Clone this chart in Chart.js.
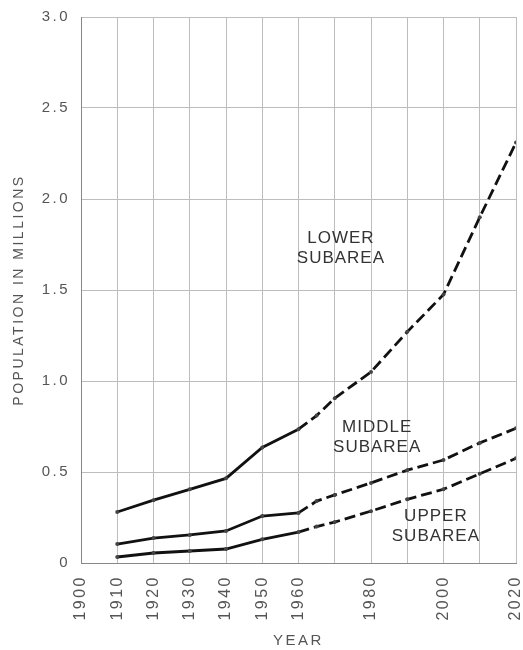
<!DOCTYPE html>
<html>
<head>
<meta charset="utf-8">
<script src="https://cdn.jsdelivr.net/npm/chart.js@4/dist/chart.umd.min.js"></script>
<style>
	html, body { margin: 0; padding: 0; background: #fff; }
	.wrap { width: 523px; height: 650px; position: relative; }
</style>
</head>
<body>
<div class="wrap"><canvas id="chart-pop"></canvas></div>
<script>
const years = [1910, 1920, 1930, 1940, 1950, 1960, 1965, 1970, 1980, 1990, 2000, 2010, 2020];
const lowerPop = [0.28, 0.345, 0.405, 0.465, 0.635, 0.735, 0.81, 0.905, 1.05, 1.27, 1.475, 1.9, 2.31];
const middlePop = [0.104, 0.137, 0.154, 0.176, 0.258, 0.275, 0.34, 0.374, 0.44, 0.51, 0.566, 0.66, 0.74];
const upperPop = [0.033, 0.055, 0.066, 0.077, 0.13, 0.17, 0.2, 0.225, 0.285, 0.35, 0.405, 0.49, 0.575];
const labeledYears = [1900, 1910, 1920, 1930, 1940, 1950, 1960, 1980, 2000, 2020];
const lastRecorded = 1960;

const notes = [
	{ lines: ["LOWER", "SUBAREA"], x: 1971.7, y: 1.73 },
	{ lines: ["MIDDLE", "SUBAREA"], x: 1981.7, y: 0.69 },
	{ lines: ["UPPER", "SUBAREA"], x: 1997.9, y: 0.2 },
];

const ink = "#111";
const textGray = "#555";
const gridGray = "#bdbdbd";
const fontFamily = "'Liberation Sans', Arial, sans-serif";

const toPoints = values => years.map((yr, i) => ({ x: yr, y: values[i] }));

const series = (data) => ({
	data: toPoints(data),
	borderColor: ink,
	borderWidth: 2.8,
	pointRadius: 2,
	pointBackgroundColor: "#444",
	pointBorderWidth: 0,
	tension: 0,
	segment: {
		borderDash: ctx => (ctx.p0.parsed.x >= lastRecorded ? [11, 5] : undefined),
	},
});

// the old lettering is widely spaced
const spacing = {
	id: "spacing",
	beforeDraw(chart) {
		chart.ctx.letterSpacing = "2.5px";
	},
};

const subareaNotes = {
	id: "subareaNotes",
	afterDatasetsDraw(chart) {
		const { ctx, scales } = chart;
		ctx.save();
		ctx.letterSpacing = "1px";
		ctx.font = "17px " + fontFamily;
		ctx.fillStyle = "#333";
		ctx.textAlign = "center";
		ctx.textBaseline = "middle";
		notes.forEach(n => {
			const cx = scales.x.getPixelForValue(n.x);
			const cy = scales.y.getPixelForValue(n.y);
			ctx.fillText(n.lines[0], cx, cy - 10);
			ctx.fillText(n.lines[1], cx, cy + 10);
		});
		ctx.restore();
	},
};

const noEdgePadding = s => {
	s.paddingLeft = 0;
	s.paddingRight = 0;
	s.paddingTop = 0;
	s.paddingBottom = 0;
};

const config = {
	type: "line",
	data: {
		datasets: [series(lowerPop), series(middlePop), series(upperPop)],
	},
	options: {
		responsive: true,
		maintainAspectRatio: false,
		animation: false,
		layout: { padding: { top: 17, right: 7, left: 0, bottom: 0 } },
		plugins: {
			legend: { display: false },
			tooltip: { enabled: false },
		},
		scales: {
			x: {
				type: "linear",
				min: 1900,
				max: 2020,
				afterFit: s => {
					s.height = 87;
					noEdgePadding(s);
				},
				ticks: {
					stepSize: 10,
					autoSkip: false,
					minRotation: 90,
					maxRotation: 90,
					padding: 12,
					color: textGray,
					font: { family: fontFamily, size: 16 },
					callback: v => (labeledYears.includes(v) ? String(v) : ""),
				},
				grid: { color: gridGray, lineWidth: 1, drawTicks: false },
				border: { color: "#888", width: 1 },
				title: {
					display: true,
					text: "YEAR",
					color: textGray,
					font: { family: fontFamily, size: 15 },
					padding: { top: 0, bottom: 0 },
				},
			},
			y: {
				min: 0,
				max: 3,
				afterFit: s => {
					s.width = 81;
					noEdgePadding(s);
				},
				ticks: {
					stepSize: 0.5,
					padding: 11,
					color: textGray,
					font: { family: fontFamily, size: 15 },
					callback: v => (v === 0 ? "0" : v.toFixed(1)),
				},
				grid: { color: gridGray, lineWidth: 1, drawTicks: false },
				border: { color: "#888", width: 1 },
				title: {
					display: true,
					text: "POPULATION IN MILLIONS",
					color: textGray,
					font: { family: fontFamily, size: 14 },
					padding: { top: 11, bottom: 0 },
				},
			},
		},
	},
	plugins: [spacing, subareaNotes],
};

new Chart(document.getElementById("chart-pop"), config);
</script>
</body>
</html>
